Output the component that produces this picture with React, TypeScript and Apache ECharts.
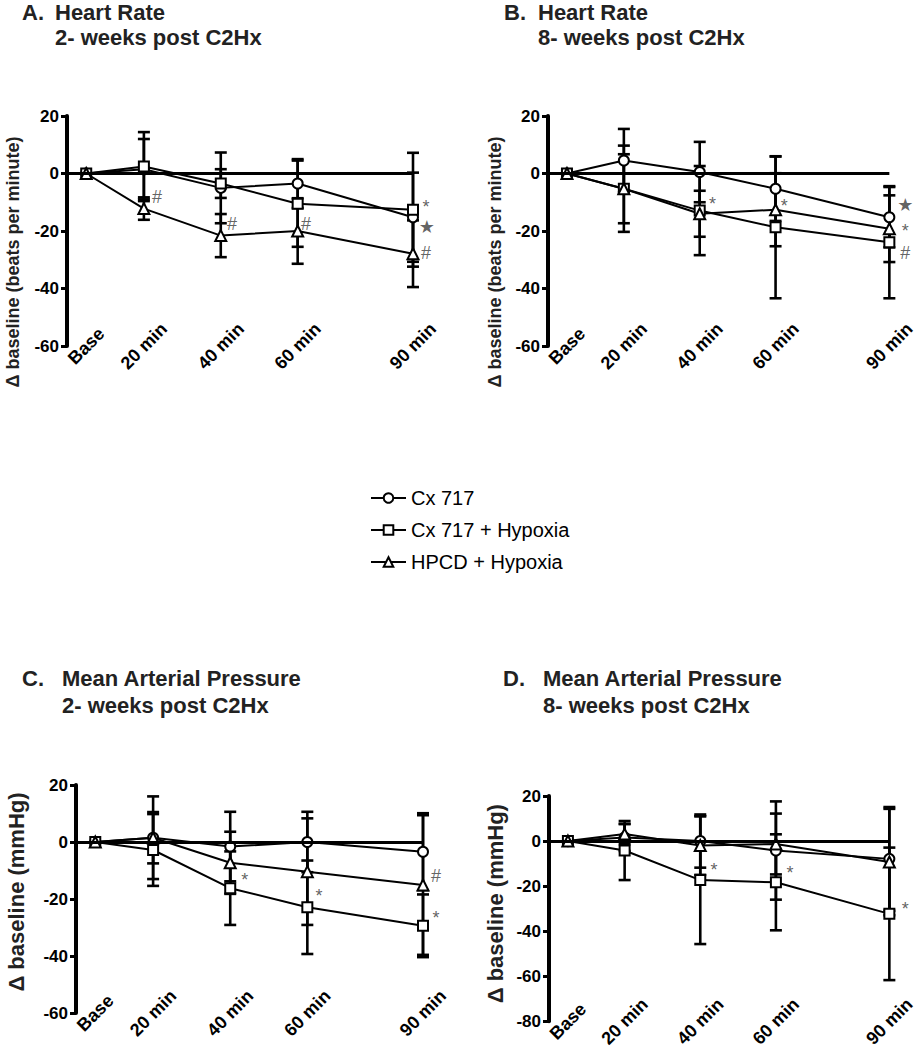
import React, { useEffect, useRef } from 'react';
import * as echarts from 'echarts';

// ---------- data ----------
const timePoints = [5, 20, 40, 60, 90];
const timeLabels = ['Base', '20 min', '40 min', '60 min', '90 min'];
const groupNames = ['Cx 717', 'Cx 717 + Hypoxia', 'HPCD + Hypoxia'];
const groupSymbols = ['circle', 'rect', 'triangle'];

// A. Heart rate, 2 weeks
const hr2wCx717 = [0, 1.5, -5, -3.5, -15.2];
const hr2wCx717Sd = [0, 10.5, 12.3, 8.5, 15.5];
const hr2wCx717Hyp = [0, 2.4, -3.5, -10.5, -12.6];
const hr2wCx717HypSd = [0, 12, 5, 15, 19.8];
const hr2wHpcdHyp = [0, -12.2, -21.6, -20, -27.9];
const hr2wHpcdHypSd = [0, 3.9, 7.5, 11.4, 11.6];
const hr2wMarks: [number, number, string][] = [
  [23.4, -8, '#'], [42.9, -17.7, '#'], [62.2, -17.4, '#'],
  [93.4, -10.6, '*'], [93.6, -18.6, '★'], [93.4, -27.5, '#'],
];

// B. Heart rate, 8 weeks
const hr8wCx717 = [0, 4.5, 0.5, -5.3, -15.2];
const hr8wCx717Sd = [0, 11, 10.5, 11.2, 10.5];
const hr8wCx717Hyp = [0, -5.3, -12.9, -18.7, -23.9];
const hr8wCx717HypSd = [0, 15, 15.5, 24.7, 19.5];
const hr8wHpcdHyp = [0, -5.3, -14, -12.6, -19.2];
const hr8wHpcdHypSd = [0, 12, 8, 12.7, 11.6];
const hr8wMarks: [number, number, string][] = [
  [43.4, -9.4, '*'], [62.3, -10.1, '*'],
  [94.2, -10.8, '★'], [94.2, -18.8, '*'], [94.2, -27.5, '#'],
];

// C. Mean arterial pressure, 2 weeks
const map2wCx717 = [0, 1.5, -1.6, 0, -3.4];
const map2wCx717Sd = [0, 14.5, 12.2, 10.6, 13.5];
const map2wCx717Hyp = [0, -2.8, -16.2, -22.9, -29.4];
const map2wCx717HypSd = [0, 12.6, 12.9, 16.4, 11];
const map2wHpcdHyp = [0, 1.5, -7.3, -10.4, -15.1];
const map2wHpcdHypSd = [0, 9, 10.9, 18.7, 24.5];
const map2wMarks: [number, number, string][] = [
  [43.8, -12.3, '*'], [63, -17.9, '*'], [93.4, -11.9, '#'], [93.4, -25.6, '*'],
];

// D. Mean arterial pressure, 8 weeks
const map8wCx717 = [0, 1.6, 0, -4.2, -7.9];
const map8wCx717Sd = [0, 6, 11.8, 21.8, 23];
const map8wCx717Hyp = [0, -4.2, -17.3, -18.3, -32.3];
const map8wCx717HypSd = [0, 13.1, 28.4, 21.3, 29.4];
const map8wHpcdHyp = [0, 3.1, -2, -1.3, -9.3];
const map8wHpcdHypSd = [0, 4.5, 13, 13.5, 23.6];
const map8wMarks: [number, number, string][] = [
  [43.6, -11.4, '*'], [63.7, -12.7, '*'], [94.2, -28.9, '*'],
];

const yTicksHr = [-60, 20];
const yTicksMapC = [-60, 20];
const yTicksMapD = [-80, 20];

const FONT = '"Liberation Sans", Arial, Helvetica, "DejaVu Sans", sans-serif';

const panels = [
  {
    letter: 'A.', title: 'Heart Rate\n2- weeks post C2Hx', yName: 'Δ baseline (beats per minute)',
    means: [hr2wCx717, hr2wCx717Hyp, hr2wHpcdHyp], sds: [hr2wCx717Sd, hr2wCx717HypSd, hr2wHpcdHypSd],
    marks: hr2wMarks, yRange: yTicksHr,
    grid: { left: 67, top: 116, width: 346, height: 230 },
    letterPos: [22, 0], titlePos: [55, 0], lh: 25,
    nameSize: 18, nameGap: 45, namePad: [0, 62, 0, 0],
  },
  {
    letter: 'B.', title: 'Heart Rate\n8- weeks post C2Hx', yName: 'Δ baseline (beats per minute)',
    means: [hr8wCx717, hr8wCx717Hyp, hr8wHpcdHyp], sds: [hr8wCx717Sd, hr8wCx717HypSd, hr8wHpcdHypSd],
    marks: hr8wMarks, yRange: yTicksHr,
    grid: { left: 548, top: 116, width: 347, height: 230 },
    letterPos: [504, 0], titlePos: [538, 0], lh: 25,
    nameSize: 18, nameGap: 44, namePad: [0, 62, 0, 0],
  },
  {
    letter: 'C.', title: 'Mean Arterial Pressure\n2- weeks post C2Hx', yName: 'Δ baseline (mmHg)',
    means: [map2wCx717, map2wCx717Hyp, map2wHpcdHyp], sds: [map2wCx717Sd, map2wCx717HypSd, map2wHpcdHypSd],
    marks: map2wMarks, yRange: yTicksMapC,
    grid: { left: 76, top: 785, width: 347, height: 228 },
    letterPos: [22, 665], titlePos: [62, 665], lh: 27,
    nameSize: 22, nameGap: 49, namePad: [0, 0, 0, 14],
  },
  {
    letter: 'D.', title: 'Mean Arterial Pressure\n8- weeks post C2Hx', yName: 'Δ baseline (mmHg)',
    means: [map8wCx717, map8wCx717Hyp, map8wHpcdHyp], sds: [map8wCx717Sd, map8wCx717HypSd, map8wHpcdHypSd],
    marks: map8wMarks, yRange: yTicksMapD,
    grid: { left: 549, top: 796, width: 345, height: 229 },
    letterPos: [503, 665], titlePos: [543, 665], lh: 27,
    nameSize: 22, nameGap: 43, namePad: [0, 0, 0, 10],
  },
];

function errorRender(params: any, api: any) {
  const x = api.value(0);
  const m = api.value(1);
  const e = api.value(2);
  if (!e) return { type: 'group', children: [] };
  const hi = api.coord([x, m + e]);
  const lo = api.coord([x, m - e]);
  const hw = 6;
  const st = { stroke: '#000', lineWidth: 2.6 };
  return {
    type: 'group',
    children: [
      { type: 'line', shape: { x1: hi[0], y1: hi[1], x2: lo[0], y2: lo[1] }, style: st },
      { type: 'line', shape: { x1: hi[0] - hw, y1: hi[1], x2: hi[0] + hw, y2: hi[1] }, style: st },
      { type: 'line', shape: { x1: lo[0] - hw, y1: lo[1], x2: lo[0] + hw, y2: lo[1] }, style: st },
    ],
  };
}

function buildOption() {
  const titles: any[] = [];
  const grids: any[] = [];
  const xAxes: any[] = [];
  const yAxes: any[] = [];
  const series: any[] = [];

  panels.forEach((p, pi) => {
    const ts = { fontSize: 22, fontWeight: 'bold', color: '#222', fontFamily: FONT, lineHeight: p.lh };
    titles.push({ text: p.letter, left: p.letterPos[0], top: p.letterPos[1], padding: 0, textStyle: ts });
    titles.push({ text: p.title, left: p.titlePos[0], top: p.titlePos[1], padding: 0, textStyle: ts });
    grids.push({ ...p.grid, containLabel: false });
    xAxes.push({
      type: 'value', gridIndex: pi, min: 0, max: 90, interval: 5,
      axisLine: { show: false }, axisTick: { show: false }, splitLine: { show: false },
      axisLabel: {
        rotate: 45, align: 'center', verticalAlign: 'middle', margin: 0,
        fontSize: 18, fontWeight: 'bold', color: '#000', fontFamily: FONT,
        formatter: (v: number) => {
          const i = timePoints.indexOf(v);
          return i >= 0 ? timeLabels[i] : '';
        },
      },
    });
    yAxes.push({
      type: 'value', gridIndex: pi, min: p.yRange[0], max: p.yRange[1], interval: 20,
      name: p.yName, nameLocation: 'middle', nameRotate: 90, nameGap: p.nameGap,
      nameTextStyle: { fontSize: p.nameSize, fontWeight: 'bold', color: '#222', fontFamily: FONT, padding: p.namePad },
      axisLine: { show: true, onZero: false, lineStyle: { color: '#000', width: 4 } },
      axisTick: { show: true, length: 6, lineStyle: { color: '#000', width: 3 } },
      splitLine: { show: false },
      axisLabel: { fontSize: 17, fontWeight: 'bold', color: '#000', fontFamily: FONT, margin: 8 },
    });

    groupNames.forEach((g, gi) => {
      const means = p.means[gi];
      const sds = p.sds[gi];
      series.push({
        type: 'custom', name: g + ' SD', xAxisIndex: pi, yAxisIndex: pi, z: 1,
        renderItem: errorRender, silent: true,
        encode: { x: 0, y: 1 },
        data: timePoints.map((t, i) => [t, means[i], sds[i]]),
      });
      const s: any = {
        type: 'line', name: g, xAxisIndex: pi, yAxisIndex: pi, z: 3,
        symbol: groupSymbols[gi], symbolSize: gi === 2 ? 11 : 10, showAllSymbol: true,
        itemStyle: { color: '#fff', borderColor: '#000', borderWidth: 2 },
        lineStyle: { color: '#000', width: 2 },
        emphasis: { disabled: true },
        data: timePoints.map((t, i) => [t, means[i]]),
      };
      if (gi === 0) {
        s.markLine = {
          silent: true, symbol: ['none', 'none'], label: { show: false },
          lineStyle: { color: '#000', width: 3, type: 'solid' },
          data: [{ yAxis: 0 }],
        };
      }
      series.push(s);
    });

    series.push({
      type: 'scatter', xAxisIndex: pi, yAxisIndex: pi, z: 4, clip: false, silent: true,
      symbolSize: 1, itemStyle: { color: 'rgba(0,0,0,0)' },
      label: {
        show: true, position: 'inside', formatter: '{b}',
        fontSize: 18, lineHeight: 14, color: '#3a3a3a', fontFamily: FONT,
      },
      data: p.marks.map((m) => ({
        name: m[2], value: [m[0], m[1]],
        label: { offset: m[2] === '*' ? [0, 3] : [0, 0] },
      })),
    });
  });

  return {
    animation: false,
    backgroundColor: '#fff',
    textStyle: { fontFamily: FONT },
    title: titles,
    legend: {
      data: groupNames, orient: 'vertical', left: 365, top: 483,
      itemWidth: 35, itemHeight: 12, itemGap: 12,
      textStyle: { fontSize: 20, color: '#000', fontFamily: FONT },
    },
    grid: grids,
    xAxis: xAxes,
    yAxis: yAxes,
    series,
  };
}

export default function App() {
  const ref = useRef<HTMLDivElement>(null);
  useEffect(() => {
    if (!ref.current) return;
    const chart = echarts.init(ref.current, undefined, { renderer: 'svg' });
    chart.setOption(buildOption() as any);
    return () => chart.dispose();
  }, []);
  return (
    <div
      ref={ref}
      style={{ position: 'fixed', left: 0, top: 0, width: 918, height: 1050, background: '#fff' }}
    />
  );
}
